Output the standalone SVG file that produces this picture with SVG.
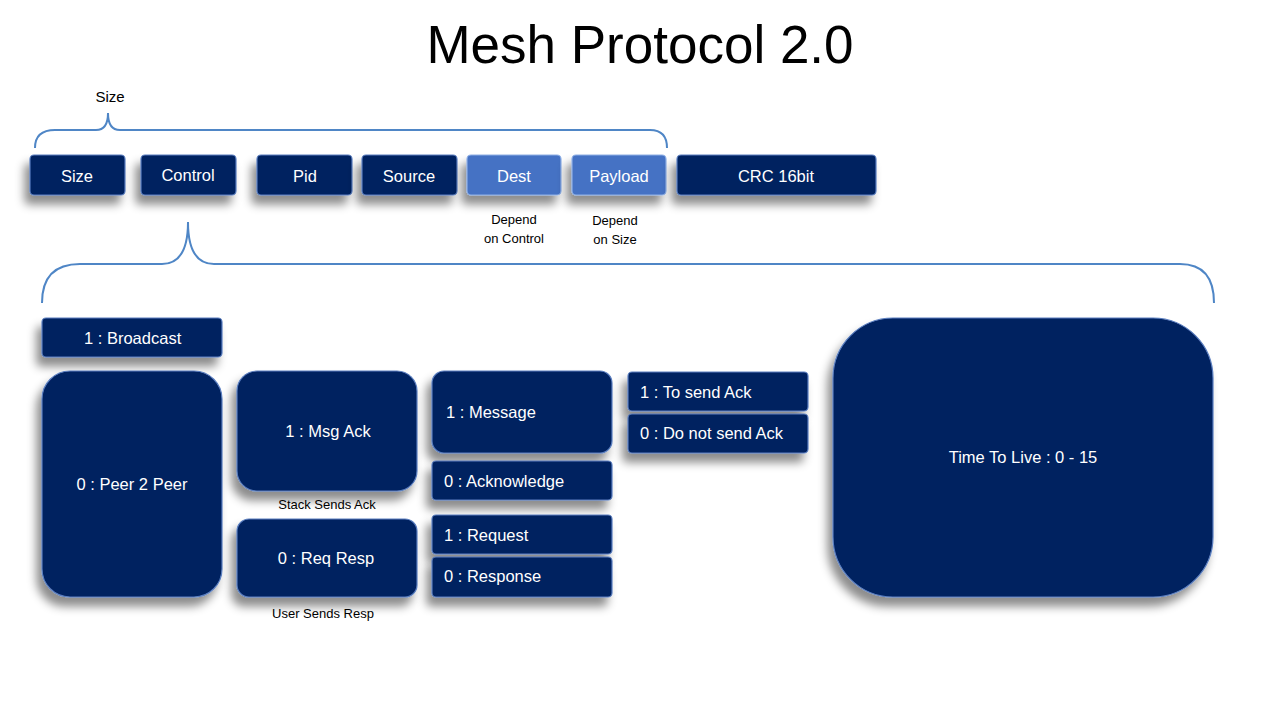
<svg xmlns="http://www.w3.org/2000/svg" width="1280" height="720" viewBox="0 0 1280 720">
<style>
.box{fill:#002060;stroke:#5a7fc0;stroke-width:1.2;filter:url(#sh)}
.lbox{fill:#4472C4;stroke:#8fb0e6;stroke-width:1.2;filter:url(#sh)}
.t{font-family:"Liberation Sans",Arial,sans-serif;font-size:16.5px;fill:#ffffff;text-anchor:middle}
.tl{font-family:"Liberation Sans",Arial,sans-serif;font-size:16.5px;fill:#ffffff;text-anchor:start}
.n{font-family:"Liberation Sans",Arial,sans-serif;font-size:13px;fill:#000000;text-anchor:middle}
.brace{fill:none;stroke:#4f86c6;stroke-width:2}
</style>
<defs>
<filter id="sh" x="-30%" y="-30%" width="160%" height="180%">
<feGaussianBlur in="SourceAlpha" stdDeviation="5"/>
<feOffset dx="-5" dy="9" result="b"/>
<feFlood flood-color="#000000" flood-opacity="0.45"/>
<feComposite in2="b" operator="in"/>
<feMerge><feMergeNode/><feMergeNode in="SourceGraphic"/></feMerge>
</filter>
</defs>
<rect width="1280" height="720" fill="#ffffff"/>
<text x="640" y="63" font-family="Liberation Sans,Arial,sans-serif" font-size="53" text-anchor="middle" fill="#000000">Mesh Protocol 2.0</text>
<text x="110" y="102" class="n" style="font-size:15px">Size</text>

<g id="connectors">
<path class="brace" d="M35,148 Q35,130 55,130 L96,130 Q108,130 108,113 Q108,130 120,130 L650,130 Q667,130 667,148"/>
<path class="brace" d="M42,303 Q42,264 80,264 L162,264 Q188,264 188,222 Q188,264 214,264 L1180,264 Q1214,264 1214,303"/>
</g>

<g id="n-size"><rect class="box" x="30" y="155" width="95" height="40" rx="4"/><text class="t" x="77" y="182">Size</text></g>
<g id="n-control"><rect class="box" x="141" y="155" width="95" height="40" rx="4"/><text class="t" x="188" y="181">Control</text></g>
<g id="n-pid"><rect class="box" x="257" y="155" width="95" height="40" rx="4"/><text class="t" x="305" y="182">Pid</text></g>
<g id="n-source"><rect class="box" x="362" y="155" width="95" height="40" rx="4"/><text class="t" x="409" y="182">Source</text></g>
<g id="n-dest"><rect class="lbox" x="467" y="155" width="94" height="40" rx="4"/><text class="t" x="514" y="182">Dest</text></g>
<g id="n-payload"><rect class="lbox" x="572" y="155" width="94" height="40" rx="4"/><text class="t" x="619" y="182">Payload</text></g>
<g id="n-crc"><rect class="box" x="677" y="155" width="199" height="40" rx="4"/><text class="t" x="776" y="182">CRC 16bit</text></g>
<g id="note-dest"><text class="n" x="514" y="224">Depend</text><text class="n" x="514" y="243">on Control</text></g>
<g id="note-payload"><text class="n" x="615" y="225">Depend</text><text class="n" x="615" y="244">on Size</text></g>

<g id="n-broadcast"><rect class="box" x="42" y="318" width="180" height="39" rx="4"/><text class="tl" x="84" y="344">1 : Broadcast</text></g>
<g id="n-p2p"><rect class="box" x="42" y="371" width="180" height="226" rx="28"/><text class="t" x="132" y="490">0 : Peer 2 Peer</text></g>
<g id="n-msgack"><rect class="box" x="237" y="371" width="180" height="120" rx="20"/><text class="t" x="328" y="437">1 : Msg Ack</text></g>
<text class="n" x="327" y="509">Stack Sends Ack</text>
<g id="n-reqresp"><rect class="box" x="237" y="519" width="180" height="78" rx="12"/><text class="t" x="326" y="564">0 : Req Resp</text></g>
<text class="n" x="323" y="618">User Sends Resp</text>
<g id="n-message"><rect class="box" x="432" y="371" width="180" height="82" rx="12"/><text class="tl" x="446" y="418">1 : Message</text></g>
<g id="n-ack"><rect class="box" x="432" y="461" width="180" height="39" rx="4"/><text class="tl" x="444" y="487">0 : Acknowledge</text></g>
<g id="n-request"><rect class="box" x="432" y="515" width="180" height="39" rx="4"/><text class="tl" x="444" y="541">1 : Request</text></g>
<g id="n-response"><rect class="box" x="432" y="557" width="180" height="40" rx="4"/><text class="tl" x="444" y="582">0 : Response</text></g>
<g id="n-tosend"><rect class="box" x="628" y="372" width="180" height="39" rx="4"/><text class="tl" x="640" y="398">1 : To send Ack</text></g>
<g id="n-donot"><rect class="box" x="628" y="414" width="180" height="39" rx="4"/><text class="tl" x="640" y="439">0 : Do not send Ack</text></g>
<g id="n-ttl"><rect class="box" x="833" y="318" width="380" height="279" rx="60"/><text class="t" x="1023" y="463">Time To Live : 0 - 15</text></g>
</svg>
